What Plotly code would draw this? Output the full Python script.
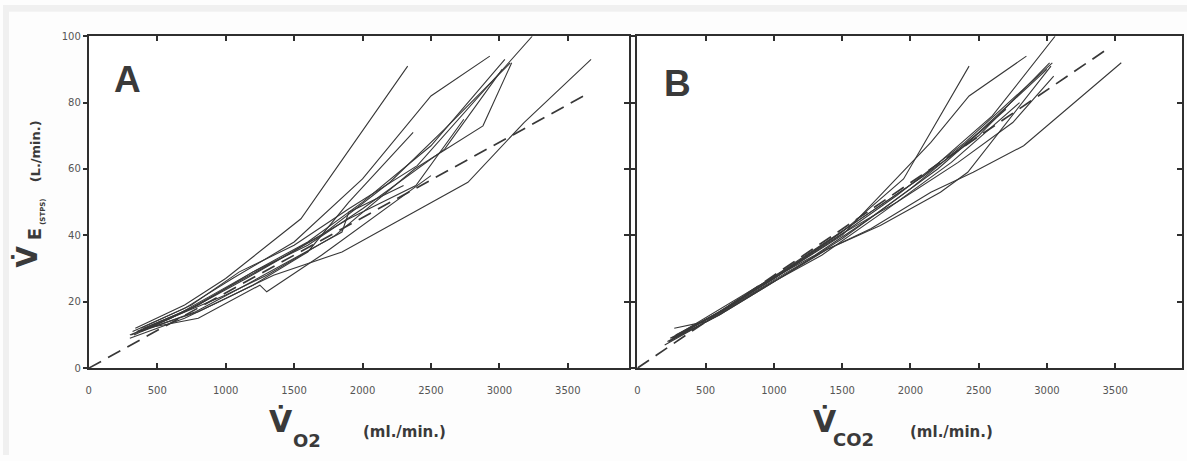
import plotly.graph_objects as go

# ---------------- data ----------------
# Panel A: VE (L/min) vs VO2 (ml/min), one polyline per subject
panel_a_vo2 = [
    [340, 700, 1000, 1550, 2330],
    [320, 700, 1050, 1500, 2000, 2500, 2930],
    [380, 750, 1100, 1500, 1900, 2400, 3240],
    [350, 800, 1200, 1600, 2000, 2500, 3040],
    [400, 750, 1150, 1700, 2200, 2600, 3080],
    [300, 650, 1000, 1300, 1800, 2380, 2880, 3090],
    [330, 700, 1000, 1400, 1900, 2390, 2740],
    [360, 800, 1200, 1600, 1900, 2370],
    [300, 700, 1000, 1350, 1850, 2770, 3180, 3670],
    [420, 800, 1250, 1300, 1700, 2100, 2500],
    [380, 650, 780, 1100, 1500, 1850, 1900, 2300],
    [310, 600, 900, 1200, 1600, 2000, 2600, 3020],
]
panel_a_ve = [
    [12, 19, 27, 45, 91],
    [11, 18, 27, 38, 57, 82, 94],
    [12, 19, 29, 37, 48, 61, 100],
    [11, 19, 29, 38, 50, 67, 93],
    [12, 18, 27, 40, 56, 72, 92],
    [10, 16, 22, 28, 40, 60, 73, 92],
    [10, 17, 24, 33, 45, 55, 75],
    [11, 17, 25, 35, 50, 71],
    [9, 15, 21, 28, 35, 56, 74, 93],
    [12, 15, 25, 23, 34, 46, 58],
    [11, 15, 17, 24, 33, 41, 47, 55],
    [10, 15, 22, 29, 37, 48, 66, 90],
]
dash_a_vo2 = [0, 3660]
dash_a_ve = [0, 83]

# Panel B: VE (L/min) vs VCO2 (ml/min)
panel_b_vco2 = [
    [260, 600, 1000, 1500, 1950, 2430],
    [280, 650, 1000, 1500, 2150, 2430, 2850],
    [230, 600, 1050, 1600, 2100, 2600, 3060],
    [250, 700, 1100, 1600, 2100, 2500, 3020],
    [300, 650, 1000, 1450, 1900, 2400, 3040],
    [220, 600, 1000, 1500, 2000, 2500, 3000],
    [270, 500, 900, 1300, 1700, 2200, 2700],
    [250, 700, 1100, 1400, 1710, 2150, 2460, 2830, 3545],
    [230, 600, 1000, 1400, 1780, 2220, 2420, 3030],
    [200, 550, 950, 1350, 1800, 2300, 2800],
    [240, 620, 1020, 1480, 1900, 2350, 2750, 3050],
]
panel_b_ve = [
    [9, 17, 27, 41, 57, 91],
    [10, 18, 27, 40, 68, 82, 94],
    [8, 17, 29, 44, 58, 76, 100],
    [9, 20, 30, 44, 58, 70, 92],
    [10, 18, 27, 39, 52, 68, 92],
    [8, 16, 26, 39, 54, 71, 90],
    [12, 14, 25, 34, 45, 60, 78],
    [9, 19, 29, 36, 42, 53, 59, 67, 92],
    [8, 16, 26, 36, 43, 53, 59, 91],
    [7, 15, 25, 34, 47, 62, 80],
    [9, 17, 28, 40, 50, 62, 74, 88],
]
dash_b_vco2 = [0, 3420]
dash_b_ve = [0, 95.5]

x_ticks = [0, 500, 1000, 1500, 2000, 2500, 3000, 3500]
y_ticks = [0, 20, 40, 60, 80, 100]

# ---------------- figure ----------------
W, H = 1187, 461
INK = "#383838"
AX = "#2f2f2f"
TXT = "#3a3a3a"
TICKFONT = dict(family="DejaVu Sans", size=10, color="#555555")

fig = go.Figure()

for xs, ys in zip(panel_a_vo2, panel_a_ve):
    fig.add_trace(go.Scatter(x=xs, y=ys, mode="lines", xaxis="x", yaxis="y",
                             line=dict(color=INK, width=1.1), showlegend=False, hoverinfo="skip"))
fig.add_trace(go.Scatter(x=dash_a_vo2, y=dash_a_ve, mode="lines", xaxis="x", yaxis="y",
                         line=dict(color=INK, width=1.7, dash="14px,8px"), showlegend=False))

for xs, ys in zip(panel_b_vco2, panel_b_ve):
    fig.add_trace(go.Scatter(x=xs, y=ys, mode="lines", xaxis="x2", yaxis="y2",
                             line=dict(color=INK, width=1.1), showlegend=False, hoverinfo="skip"))
fig.add_trace(go.Scatter(x=dash_b_vco2, y=dash_b_ve, mode="lines", xaxis="x2", yaxis="y2",
                         line=dict(color=INK, width=1.7, dash="14px,8px"), showlegend=False))

# invisible traces so the right-hand (inside tick) axes are drawn
fig.add_trace(go.Scatter(x=[None], y=[None], xaxis="x", yaxis="y3", showlegend=False))
fig.add_trace(go.Scatter(x=[None], y=[None], xaxis="x2", yaxis="y4", showlegend=False))

ytop = 1 - 32 / H
ybot = 1 - 372 / H
dA = [86 / W, 628 / W]
dB = [636 / W, 1182 / W]

xcommon = dict(tickvals=x_ticks, ticktext=[str(v) for v in x_ticks], ticks="inside", ticklen=5,
               tickwidth=1.5, tickcolor=AX, showline=True, linecolor=AX, linewidth=2,
               mirror="ticks", showgrid=False, zeroline=False, tickfont=TICKFONT,
               ticklabelstandoff=12)
ycommon = dict(range=[0, 100], tickvals=y_ticks, ticks="outside", ticklen=4, tickwidth=1.5,
               tickcolor=AX, showline=True, linecolor=AX, linewidth=2, mirror=True,
               showgrid=False, zeroline=False, tickfont=TICKFONT, ticklabelstandoff=0)
yright = dict(range=[0, 100], tickvals=y_ticks[1:-1], ticks="inside", ticklen=5, tickwidth=1.5,
              tickcolor=AX, showline=False, showgrid=False, zeroline=False,
              showticklabels=False, side="right")

fig.update_layout(
    width=W, height=H,
    margin=dict(l=0, r=0, t=0, b=0),
    paper_bgcolor="#fdfdfd", plot_bgcolor="#ffffff",
    showlegend=False,
    xaxis=dict(domain=dA, range=[0, 3950], anchor="y", **xcommon),
    yaxis=dict(domain=[ybot, ytop], anchor="x", showticklabels=True, **ycommon),
    xaxis2=dict(domain=dB, range=[0, 3990], anchor="y2", **xcommon),
    yaxis2=dict(domain=[ybot, ytop], anchor="x2", showticklabels=False, **ycommon),
    yaxis3=dict(overlaying="y", anchor="x", **yright),
    yaxis4=dict(overlaying="y2", anchor="x2", **yright),
)

# scanned page frame (light grey border strips)
fig.add_shape(type="rect", xref="paper", yref="paper", x0=0, x1=1, y0=1 - 7 / H, y1=1,
              fillcolor="#f0f0f0", line=dict(width=0), layer="below")
fig.add_shape(type="rect", xref="paper", yref="paper", x0=0, x1=6 / W, y0=0, y1=1,
              fillcolor="#f0f0f0", line=dict(width=0), layer="below")


def ann(text, px, py, size, angle=0, bold=False, family="DejaVu Sans", color=TXT):
    fig.add_annotation(text=f"<b>{text}</b>" if bold else text, x=px / W, y=1 - py / H,
                       xref="paper", yref="paper", showarrow=False, textangle=angle,
                       font=dict(family=family, size=size, color=color),
                       xanchor="center", yanchor="middle")


ann("A", 125, 76, 37, bold=True, family="Liberation Sans")
ann("B", 676, 80, 37, bold=True, family="Liberation Sans")

# y axis title
ann("V\u0307", 25, 258, 28, angle=-90, bold=True)
ann("E", 31, 235, 18, angle=-90, bold=True)
ann("(STPS)", 40, 212, 7, angle=-90, bold=True)
ann("(L./min.)", 33, 150, 13, angle=-90, bold=True)

# x axis titles
ann("V\u0307", 279, 427, 30, bold=True)
ann("O2", 305, 446, 18, bold=True)
ann("(ml./min.)", 403, 437, 15, bold=True)
ann("V\u0307", 824, 427, 30, bold=True)
ann("CO2", 853, 445, 18, bold=True)
ann("(ml./min.)", 951, 437, 15, bold=True)

fig.write_html("out.html", config={"displayModeBar": False},
               post_script="document.body.style.margin='0';document.body.style.overflow='hidden';")
